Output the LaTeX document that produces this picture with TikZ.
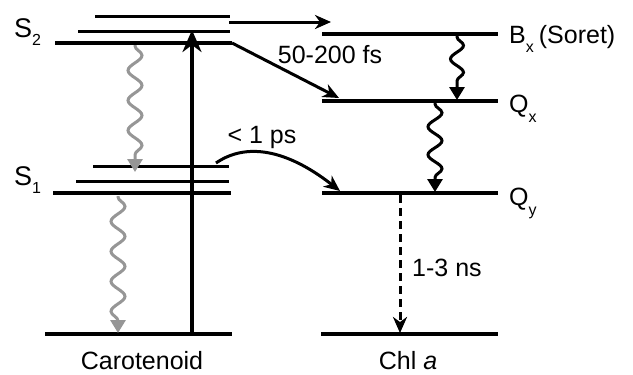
\documentclass[tikz,border=0pt]{standalone}
\usepackage{fontspec}
\setmainfont{Liberation Sans}
\usetikzlibrary{arrows.meta,decorations.pathmorphing}
\definecolor{wavegray}{RGB}{150,150,150}
\begin{document}
\begin{tikzpicture}[x=1pt,y=-1pt,
  lvl/.style={line width=4pt},
  sublvl/.style={line width=3pt},
  arr/.style={line width=3pt,-{Stealth[length=16pt,width=14pt,inset=5pt]}},
  wavearr/.style={line width=3pt,decorate,
     decoration={snake,amplitude=7pt,segment length=30pt,pre length=1pt,post length=11pt},
     -{Triangle[length=13pt,width=15pt]}},
  lab/.style={font=\fontsize{25}{25}\selectfont,inner sep=0pt},
]
\useasboundingbox (0,0) rectangle (633,375);
% --- carotenoid levels
\coordinate (s2a) at (95,16);  \coordinate (s2ae) at (230,16);
\coordinate (s2b) at (78,31);  \coordinate (s2be) at (230,31);
\coordinate (s2)  at (55,43);  \coordinate (s2e)  at (232,43);
\coordinate (s1a) at (93,166); \coordinate (s1ae) at (229,166);
\coordinate (s1b) at (76,181); \coordinate (s1be) at (229,181);
\coordinate (s1)  at (53,193); \coordinate (s1e)  at (231,193);
\coordinate (g0)  at (45,334); \coordinate (g0e)  at (232,334);
% --- Chl a levels
\coordinate (bx) at (322,34);  \coordinate (bxe) at (498,34);
\coordinate (qx) at (322,101); \coordinate (qxe) at (498,101);
\coordinate (qy) at (322,193); \coordinate (qye) at (498,193);
\coordinate (g1) at (321,334); \coordinate (g1e) at (498,334);

\draw[sublvl] (s2a) -- (s2ae);
\draw[sublvl] (s2b) -- (s2be);
\draw[lvl] (s2) -- (s2e);
\draw[sublvl] (s1a) -- (s1ae);
\draw[sublvl] (s1b) -- (s1be);
\draw[lvl] (s1) -- (s1e);
\draw[lvl] (g0) -- (g0e);
\draw[lvl] (bx) -- (bxe);
\draw[lvl] (qx) -- (qxe);
\draw[lvl] (qy) -- (qye);
\draw[lvl] (g1) -- (g1e);

% --- excitation
\coordinate (exs) at (192,334); \coordinate (exe) at (192,30);
\draw[line width=3.3pt,-{Stealth[length=22pt,width=19pt,inset=7pt]}] (exs) -- (exe);

% --- gray internal conversion
\coordinate (w1s) at (135,45); \coordinate (w1e) at (135,172);
\draw[wavearr,draw=wavegray] (w1s) -- (w1e);
\coordinate (w2s) at (118,196); \coordinate (w2e) at (118,333);
\draw[wavearr,draw=wavegray] (w2s) -- (w2e);

% --- black relaxation in Chl
\coordinate (w3s) at (457,36); \coordinate (w3e) at (457,100);
\draw[wavearr,decoration={segment length=27pt,amplitude=6.5pt}] (w3s) -- (w3e);
\coordinate (w4s) at (435,103); \coordinate (w4e) at (435,192);
\draw[wavearr,decoration={segment length=28pt,amplitude=7pt}] (w4s) -- (w4e);

% --- energy transfer
\coordinate (h1s) at (229,22); \coordinate (h1e) at (331,22);
\draw[arr] (h1s) -- (h1e);
\coordinate (d1e) at (339,98);
\draw[arr] (s2e) -- (d1e);
\coordinate (c1s) at (216,163); \coordinate (c1e) at (340,191);
\draw[arr] (c1s) .. controls (245,143) and (285,148) .. (c1e);

% --- fluorescence
\coordinate (f1s) at (400,195); \coordinate (f1e) at (400,333);
\draw[line width=3pt,dash pattern=on 8pt off 5pt,-{Stealth[length=16pt,width=14pt,inset=5pt]}] (f1s) -- (f1e);

% --- labels
\node[lab,anchor=base west] (ls2) at (14,37) {{\fontsize{27}{27}\selectfont S}\raisebox{-8pt}{\fontsize{16}{16}\selectfont 2}};
\node[lab,anchor=base west] (ls1) at (14,185) {{\fontsize{27}{27}\selectfont S}\raisebox{-8pt}{\fontsize{16}{16}\selectfont 1}};
\node[lab,anchor=base west] (lbx) at (509,43) {B\raisebox{-9pt}{\fontsize{16}{16}\selectfont x}\hspace{5pt}(Soret)};
\node[lab,anchor=base west] (lqx) at (509,112) {Q\raisebox{-10pt}{\fontsize{16}{16}\selectfont x}};
\node[lab,anchor=base west] (lqy) at (509,205) {Q\raisebox{-10pt}{\fontsize{16}{16}\selectfont y}};
\node[lab,anchor=base] (lt1) at (330,63) {50-200 fs};
\node[lab,anchor=base] (lt2) at (262,143) {< 1 ps};
\node[lab,anchor=base west] (lt3) at (412,276) {1-3 ns};
\node[lab,anchor=base] (lcaro) at (142,369) {Carotenoid};
\node[lab,anchor=base] (lchl) at (408,369) {Chl \textit{a}};
\end{tikzpicture}
\end{document}
